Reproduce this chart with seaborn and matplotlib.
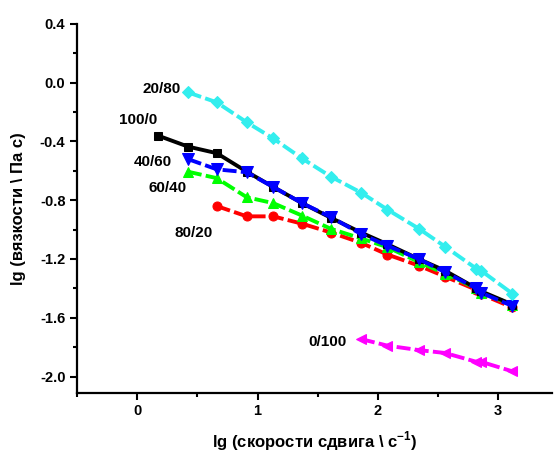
import matplotlib
matplotlib.use("Agg")
import matplotlib.pyplot as plt
import seaborn as sns
from matplotlib.ticker import MultipleLocator

# lg of shear rate, shared grid
x_main = [0.42, 0.66, 0.91, 1.13, 1.37, 1.61, 1.86, 2.08, 2.34, 2.56, 2.82, 2.86, 3.12]

x_100_0 = [0.17] + x_main
y_100_0 = [-0.36, -0.435, -0.48, -0.606, -0.71, -0.82, -0.92, -1.02, -1.10, -1.20, -1.28, -1.40, -1.42, -1.51]

x_20_80 = x_main
y_20_80 = [-0.066, -0.134, -0.27, -0.38, -0.516, -0.64, -0.748, -0.864, -0.993, -1.116, -1.266, -1.28, -1.436]

x_40_60 = x_main
y_40_60 = [-0.52, -0.59, -0.61, -0.71, -0.82, -0.915, -1.03, -1.11, -1.20, -1.29, -1.40, -1.43, -1.52]

x_60_40 = x_main
y_60_40 = [-0.606, -0.65, -0.78, -0.82, -0.905, -0.995, -1.06, -1.12, -1.22, -1.30, -1.40, -1.43, -1.51]

x_80_20 = x_main[1:]
y_80_20 = [-0.84, -0.91, -0.91, -0.96, -1.02, -1.09, -1.17, -1.245, -1.32, -1.41, -1.44, -1.53]

x_0_100 = x_main[6:]
y_0_100 = [-1.745, -1.79, -1.82, -1.84, -1.90, -1.90, -1.965]

labels = ["80/20", "60/40", "100/0", "40/60", "20/80", "0/100"]
label_pos = {
    "20/80": (0.20, -0.045),
    "100/0": (0.006, -0.257),
    "40/60": (0.13, -0.537),
    "60/40": (0.25, -0.714),
    "80/20": (0.47, -1.02),
    "0/100": (1.58, -1.764),
}

series = [
    (x_80_20, y_80_20, "#ff0000", "o", 6.5, (3.6, 1.1)),
    (x_60_40, y_60_40, "#00ff00", "^", 7.5, (3.6, 1.1)),
    (x_100_0, y_100_0, "#000000", "s", 6, None),
    (x_40_60, y_40_60, "#0000ff", "v", 8, (3.6, 1.1)),
    (x_20_80, y_20_80, "#33eeee", "D", 6.5, (3.6, 1.1)),
    (x_0_100, y_0_100, "#ff00ff", "<", 7.5, (3.6, 1.1)),
]

sns.set_theme(style="ticks")
plt.rcParams["font.family"] = ["Liberation Sans", "DejaVu Sans"]
plt.rcParams["font.weight"] = "bold"
plt.rcParams["text.color"] = "black"
plt.rcParams["axes.labelcolor"] = "black"
plt.rcParams["mathtext.fontset"] = "custom"
plt.rcParams["mathtext.rm"] = "Liberation Sans:bold"
plt.rcParams["mathtext.bf"] = "Liberation Sans:bold"

fig = plt.figure(figsize=(5.56, 4.59), dpi=100)
ax = fig.add_axes([0.139, 0.1445, 0.854, 0.8035])

for (xs, ys, color, marker, ms, dash), name in zip(series, labels):
    sns.lineplot(x=xs, y=ys, ax=ax, color=color, marker=marker, markersize=ms,
                 markeredgecolor=color, linewidth=2.8, estimator=None, sort=False)
    line = ax.lines[-1]
    if dash is not None:
        line.set_dashes(dash)
    tx, ty = label_pos[name]
    ax.text(tx, ty, name, ha="center", va="center", fontsize=11, fontweight="bold", color="black")

ax.set_xlim(-0.5, 3.45)
ax.set_ylim(-2.11, 0.4)
ax.xaxis.set_major_locator(MultipleLocator(1))
ax.xaxis.set_minor_locator(MultipleLocator(0.5))
ax.yaxis.set_major_locator(MultipleLocator(0.4))
ax.yaxis.set_minor_locator(MultipleLocator(0.2))
ax.yaxis.set_major_formatter(plt.FuncFormatter(lambda v, p: f"{v:.1f}".replace("-0.0", "0.0")))

ax.tick_params(which="major", length=5, width=1.5, labelsize=10.5, colors="black")
ax.tick_params(which="minor", length=3, width=1.5, colors="black")
for lab in ax.get_xticklabels() + ax.get_yticklabels():
    lab.set_fontweight("bold")

for side in ["top", "right"]:
    ax.spines[side].set_visible(False)
for side in ["left", "bottom"]:
    ax.spines[side].set_linewidth(1.6)
    ax.spines[side].set_color("black")

ax.set_xlabel(r"lg (скорости сдвига \ с$^{-1}$)", fontsize=12, fontweight="bold", labelpad=8)
ax.set_ylabel(r"lg (вязкости \ Па с)", fontsize=12, fontweight="bold", labelpad=10)

fig.savefig("out.png", dpi=100)
plt.close(fig)
